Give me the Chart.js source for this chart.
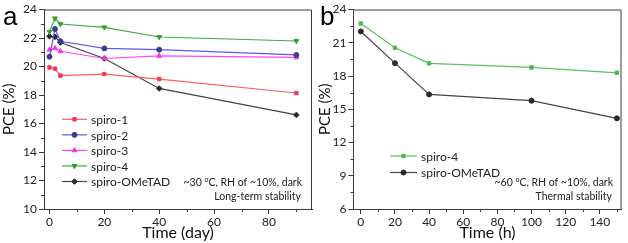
<!DOCTYPE html>
<html>
<head>
<meta charset="utf-8">
<script src="https://cdn.jsdelivr.net/npm/chart.js@4.4.1/dist/chart.umd.min.js"></script>
<style>
  html, body { margin: 0; padding: 0; background: #fff; }
  #wrap { position: relative; width: 628px; height: 243px; overflow: hidden; }
  #boxA { position: absolute; left: 0; top: 0; width: 318px; height: 243px; }
  #boxB { position: absolute; left: 318px; top: 0; width: 310px; height: 243px; }
</style>
</head>
<body>
<div id="wrap">
  <div id="boxA"><canvas id="chartA" width="318" height="243"></canvas></div>
  <div id="boxB"><canvas id="chartB" width="310" height="243"></canvas></div>
</div>
<script>
// panel a: long-term stability (day)
const daysA = [0, 2, 4, 20, 40, 90];
const spiro1A = [19.93, 19.85, 19.36, 19.47, 19.12, 18.14];
const spiro2A = [20.69, 22.63, 21.77, 21.27, 21.18, 20.81];
const spiro3A = [21.18, 21.28, 21.07, 20.56, 20.74, 20.64];
const spiro4A = [22.44, 23.38, 22.98, 22.75, 22.07, 21.79];
const omeA = [22.12, 22.08, 21.68, 20.56, 18.46, 16.60];
const xTicksA = [0, 20, 40, 60, 80];
const xMinorA = [10, 30, 50, 70, 90];
const yTicksA = [10, 12, 14, 16, 18, 20, 22, 24];
const yMinorA = [11, 13, 15, 17, 19, 21, 23];

// panel b: thermal stability (h)
const hoursB = [0, 20, 40, 100, 150];
const spiro4B = [22.74, 20.54, 19.14, 18.77, 18.29];
const omeB = [22.02, 19.16, 16.34, 15.77, 14.18];
const xTicksB = [0, 20, 40, 60, 80, 100, 120, 140];
const xMinorB = [10, 30, 50, 70, 90, 110, 130, 150];
const yTicksB = [6, 9, 12, 15, 18, 21, 24];
const yMinorB = [7.5, 10.5, 13.5, 16.5, 19.5, 22.5];

const FONT = 'Lato, "Liberation Sans", sans-serif';
const AXIS = '#3a3a3a';

const pts = (xs, ys) => xs.map((x, i) => ({ x, y: ys[i] }));

function series(label, xs, ys, line, mark, style, radius, rotation) {
  return {
    label,
    data: pts(xs, ys),
    borderColor: line,
    backgroundColor: mark,
    pointBackgroundColor: mark,
    pointBorderColor: mark,
    pointStyle: style,
    pointRadius: radius,
    pointRotation: rotation || 0,
    pointBorderWidth: 1,
    borderWidth: 1.2,
    tension: 0,
    fill: false,
  };
}

// frame, minor ticks, legend, notes, panel letter
const decorations = {
  id: 'decorations',
  afterDraw(chart) {
    const o = chart.options.plugins.decorations;
    const { ctx, chartArea: a } = chart;
    const xs = chart.scales.x, ys = chart.scales.y;
    ctx.save();
    ctx.strokeStyle = AXIS;
    ctx.lineWidth = 1;
    ctx.beginPath();
    ctx.moveTo(a.left, a.top + 0.5);
    ctx.lineTo(a.right - 0.5, a.top + 0.5);
    ctx.lineTo(a.right - 0.5, a.bottom);
    ctx.stroke();
    // minor ticks
    ctx.beginPath();
    o.xMinor.forEach((v) => {
      const px = Math.round(xs.getPixelForValue(v)) + 0.5;
      ctx.moveTo(px, a.bottom);
      ctx.lineTo(px, a.bottom + 3);
    });
    o.yMinor.forEach((v) => {
      const py = Math.round(ys.getPixelForValue(v)) + 0.5;
      ctx.moveTo(a.left, py);
      ctx.lineTo(a.left - 3, py);
    });
    ctx.stroke();

    // legend
    ctx.font = '12px ' + FONT;
    ctx.textBaseline = 'middle';
    chart.data.datasets.forEach((ds, i) => {
      const y = o.legend.y + i * o.legend.step;
      ctx.strokeStyle = ds.borderColor;
      ctx.lineWidth = 1.2;
      ctx.beginPath();
      ctx.moveTo(o.legend.x1, y);
      ctx.lineTo(o.legend.x2, y);
      ctx.stroke();
      ctx.fillStyle = ds.pointBackgroundColor;
      ctx.strokeStyle = ds.pointBorderColor;
      ctx.lineWidth = 1;
      Chart.helpers.drawPoint(ctx, {
        pointStyle: ds.pointStyle, radius: ds.pointRadius,
        rotation: ds.pointRotation, borderWidth: 1,
      }, (o.legend.x1 + o.legend.x2) / 2, y);
      ctx.fillStyle = '#222';
      ctx.textAlign = 'left';
      ctx.fillText(ds.label, o.legend.x2 + 4, y + 1);
    });

    // notes, right aligned
    ctx.fillStyle = '#222';
    const f = '10.5px ' + FONT, fs = '7px ' + FONT;
    ctx.textBaseline = 'alphabetic';
    ctx.textAlign = 'left';
    ctx.font = f;
    const w1 = ctx.measureText(o.note.pre).width;
    const w3 = ctx.measureText(o.note.post).width;
    ctx.font = fs;
    const w2 = ctx.measureText('o').width;
    let x = o.note.right - (w1 + w2 + w3);
    ctx.font = f;
    ctx.fillText(o.note.pre, x, o.note.y);
    ctx.font = fs;
    ctx.fillText('o', x + w1, o.note.y - 4);
    ctx.font = f;
    ctx.fillText(o.note.post, x + w1 + w2, o.note.y);
    ctx.textAlign = 'right';
    ctx.fillText(o.note.second, o.note.right - 1, o.note.y + 14.5);

    // panel letter
    ctx.textAlign = 'left';
    ctx.font = '26px "Liberation Sans", Arial, sans-serif';
    ctx.fillStyle = '#000';
    ctx.fillText(o.letter, o.letterX, 25);
    ctx.restore();
  },
};

function makeChart(canvas, cfg) {
  const setTicks = (list) => (scale) => { scale.ticks = list.map((v) => ({ value: v })); };
  return new Chart(canvas, {
    type: 'line',
    data: { datasets: cfg.datasets },
    options: {
      responsive: false,
      animation: false,
      layout: { padding: { left: 0, right: cfg.padRight, top: 9.5, bottom: 0 } },
      plugins: {
        legend: { display: false },
        tooltip: { enabled: false },
        decorations: cfg.deco,
      },
      scales: {
        x: {
          type: 'linear',
          min: cfg.xMin,
          max: cfg.xMax,
          afterBuildTicks: setTicks(cfg.xTicks),
          afterFit: (s) => { s.height = 34; },
          grid: { drawOnChartArea: false, tickLength: 5, tickColor: AXIS },
          border: { color: AXIS, width: 1 },
          ticks: { color: '#222', font: { family: FONT, size: 12 }, padding: 1, maxRotation: 0 },
          title: {
            display: true, text: cfg.xTitle, color: '#111',
            font: { family: FONT, size: 16, weight: 'normal' }, padding: { top: 0, bottom: 1 },
          },
        },
        y: {
          min: cfg.yMin,
          max: cfg.yMax,
          afterBuildTicks: setTicks(cfg.yTicks),
          afterFit: (s) => { s.width = cfg.yWidth; },
          grid: { drawOnChartArea: false, tickLength: 5, tickColor: AXIS },
          border: { color: AXIS, width: 1 },
          ticks: { color: '#222', font: { family: FONT, size: 12 }, padding: 2 },
          title: {
            display: true, text: 'PCE (%)', color: '#111',
            font: { family: FONT, size: 15, weight: 'normal', lineHeight: 1 },
            padding: { top: cfg.yTitlePad, bottom: 0 },
          },
        },
      },
    },
    plugins: [decorations],
  });
}

makeChart(document.getElementById('chartA'), {
  datasets: [
    series('spiro-1', daysA, spiro1A, '#ff5c5c', '#ee3a55', 'rect', 2.4),
    series('spiro-2', daysA, spiro2A, '#5a5aee', '#3d3d90', 'circle', 2.5),
    series('spiro-3', daysA, spiro3A, '#ff44ff', '#ff33dd', 'triangle', 2.8),
    series('spiro-4', daysA, spiro4A, '#3cad3c', '#2ea02e', 'triangle', 2.8, 180),
    series('spiro-OMeTAD', daysA, omeA, '#444444', '#2a2a2a', 'rectRot', 2.8),
  ],
  xMin: -2, xMax: 95.7, yMin: 10, yMax: 24,
  xTicks: xTicksA, yTicks: yTicksA,
  xTitle: 'Time (day)', yWidth: 44, yTitlePad: 2, padRight: 6,
  deco: {
    xMinor: xMinorA, yMinor: yMinorA,
    legend: { x1: 62, x2: 87, y: 119.3, step: 15.55 },
    note: { pre: '~30 ', post: 'C, RH of ~10%, dark', second: 'Long-term stability', right: 302, y: 185.5 },
    letter: 'a', letterX: 3,
  },
});

makeChart(document.getElementById('chartB'), {
  datasets: [
    series('spiro-4', hoursB, spiro4B, '#5cc05c', '#4cb84c', 'rect', 2.4),
    series('spiro-OMeTAD', hoursB, omeB, '#444444', '#2a2a2a', 'circle', 2.5),
  ],
  xMin: -4.3, xMax: 152.7, yMin: 6, yMax: 24,
  xTicks: xTicksB, yTicks: yTicksB,
  xTitle: 'Time (h)', yWidth: 35.5, yTitlePad: 0, padRight: 6.5,
  deco: {
    xMinor: xMinorB, yMinor: yMinorB,
    legend: { x1: 72, x2: 99, y: 156, step: 16.5 },
    note: { pre: '~60 ', post: 'C, RH of ~10%, dark', second: 'Thermal stability', right: 295, y: 185.5 },
    letter: 'b', letterX: 2,
  },
});
</script>
</body>
</html>
